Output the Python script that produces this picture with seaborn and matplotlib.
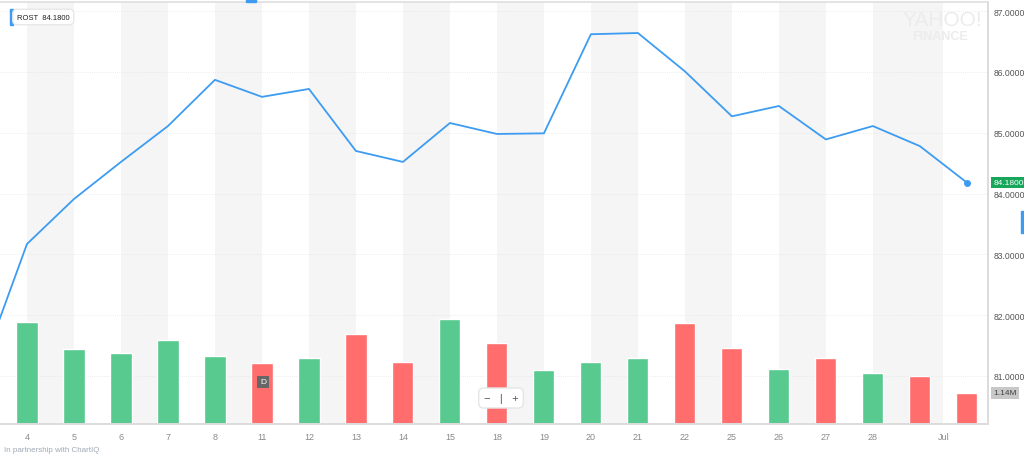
import numpy as np
import pandas as pd
import matplotlib
matplotlib.use("Agg")
import matplotlib.pyplot as plt
import seaborn as sns

# ROST daily close, June 2018 (first point is Jun 1, off the left edge)
days = ['1', '4', '5', '6', '7', '8', '11', '12', '13', '14', '15', '18', '19',
        '20', '21', '22', '25', '26', '27', '28', '29', '2']
close = [81.05, 83.17, 83.91, 84.52, 85.11, 85.87, 85.59, 85.72, 84.70, 84.52,
         85.16, 84.98, 84.99, 86.62, 86.64, 86.01, 85.27, 85.44, 84.89, 85.11,
         84.78, 84.18]
# volume in millions for Jun 4 .. Jul 2
volume = [3.75, 2.76, 2.61, 3.09, 2.50, 2.24, 2.43, 3.31, 2.28, 3.86, 2.98,
          1.99, 2.28, 2.43, 3.71, 2.79, 2.02, 2.43, 1.88, 1.76, 1.14]
price_ticks = [81, 82, 83, 84, 85, 86, 87]

GREEN = '#58c98f'
RED = '#ff6d6d'
BLUE = '#3d9cf2'
GREY_TXT = '#8a8a8a'
PMIN, PMAX = 80.21, 87.15
VMAX = 15.5

sns.set_theme(style='white')
plt.rcParams['font.family'] = ['Liberation Sans', 'DejaVu Sans']

price_df = pd.DataFrame({'idx': np.arange(-1, len(close) - 1), 'close': close})
vol_df = pd.DataFrame({'idx': np.arange(len(volume)), 'vol': volume})
vol_df['dir'] = ['up' if close[i + 1] >= close[i] else 'down' for i in range(len(volume))]

fig = plt.figure(figsize=(10.24, 4.56), dpi=100)
ax = fig.add_axes([0, 31 / 456, 988 / 1024, 422 / 456])
ax2 = ax.twinx()

# alternating grey bands
for i in range(0, 18, 2):
    ax.axvspan(i, i + 1, color='#f5f5f5', zorder=0, lw=0)
ax.axvspan(18, 19.5, color='#f5f5f5', zorder=0, lw=0)

# price grid lines drawn on the volume axis so they stay under the bars
for p in price_ticks:
    ax.axhline((p - PMIN) / (PMAX - PMIN) * VMAX, color='#e6e6e6', lw=0.6,
               ls=(0, (1, 1.5)), zorder=1)

sns.barplot(data=vol_df, x='idx', y='vol', hue='dir', palette={'up': GREEN, 'down': RED},
            dodge=False, width=0.45, native_scale=True, legend=False, ax=ax,
            saturation=1, zorder=2)
ax.set_ylim(0, VMAX)
ax.set_yticks([])
ax.set_ylabel('')
ax.set_xlabel('')

sns.lineplot(data=price_df, x='idx', y='close', color=BLUE, lw=1.3, ax=ax2, zorder=3)
ax2.plot(price_df['idx'].iloc[-1], close[-1], 'o', color=BLUE, ms=4, zorder=4)
ax2.set_ylim(PMIN, PMAX)
ax2.set_yticks(price_ticks)
ax2.set_yticklabels([f'{p:.4f}' for p in price_ticks], fontsize=6.2, color='#555555')
ax2.tick_params(axis='y', length=0, pad=4)
ax2.set_ylabel('')
ax2.set_xlabel('')

xt = list(range(19)) + [19.5]
xl = days[1:20] + ['Jul']
ax.set_xlim(-0.574, 20.45)
ax.set_xticks(xt)
ax.set_xticklabels(xl, fontsize=6.5, color=GREY_TXT)
ax.tick_params(axis='x', length=0, pad=6)

for a in (ax, ax2):
    for s in ('left', 'top'):
        a.spines[s].set_visible(False)
    a.spines['bottom'].set_color('#dcdcdc')
    a.spines['right'].set_color('#dcdcdc')
ax2.spines['top'].set_visible(True)
ax2.spines['top'].set_color('#e0e0e0')

# last price and last volume tags on the right axis
ax2.text(20.56, close[-1], f'{close[-1]:.4f}', fontsize=6, color='white', va='center',
         ha='left', clip_on=False,
         bbox=dict(boxstyle='square,pad=0.25', fc='#17a65a', ec='none'))
ax.text(20.56, volume[-1], f'{volume[-1]:.2f}M', fontsize=6, color='#444444', va='center',
        ha='left', clip_on=False,
        bbox=dict(boxstyle='square,pad=0.25', fc='#c8c8c8', ec='none'))

# legend tag
fig.text(17 / 1024, 1 - 18 / 456, 'ROST  84.1800', fontsize=5.5, color='#222222', va='center',
         bbox=dict(boxstyle='round,pad=0.55', fc='white', ec='#e8e8e8'))
fig.patches.append(plt.Rectangle((10 / 1024, 1 - 26 / 456), 2.5 / 1024, 16 / 456,
                                 transform=fig.transFigure, color=BLUE))

# small blue markers at the edges
fig.patches.append(plt.Rectangle((246 / 1024, 1 - 3 / 456), 10 / 1024, 3 / 456,
                                 transform=fig.transFigure, color=BLUE))
fig.patches.append(plt.Rectangle((1021 / 1024, 1 - 234 / 456), 3 / 1024, 22 / 456,
                                 transform=fig.transFigure, color=BLUE))

# watermark
fig.text(942 / 1024, 1 - 20 / 456, 'YAHOO!', fontsize=15, color='#ececec', ha='center',
         va='center')
fig.text(940 / 1024, 1 - 37 / 456, 'FINANCE', fontsize=9, color='#ececec', ha='center',
         va='center', fontweight='bold')

# chart widgets
fig.text(263 / 1024, 1 - 383 / 456, 'D', fontsize=6, color='white', ha='center', va='center',
         bbox=dict(boxstyle='square,pad=0.35', fc='#666666', ec='none'))
fig.text(501 / 1024, 1 - 399 / 456, '\u2212   |   +', fontsize=8, color='#555555', ha='center',
         va='center', bbox=dict(boxstyle='round,pad=0.45', fc='white', ec='#e6e6e6'))

fig.text(4 / 1024, 1 - 451 / 456, 'In partnership with ChartIQ', fontsize=5.8,
         color='#a0aab4', va='center')

fig.savefig('out.png', dpi=100, facecolor='white')
